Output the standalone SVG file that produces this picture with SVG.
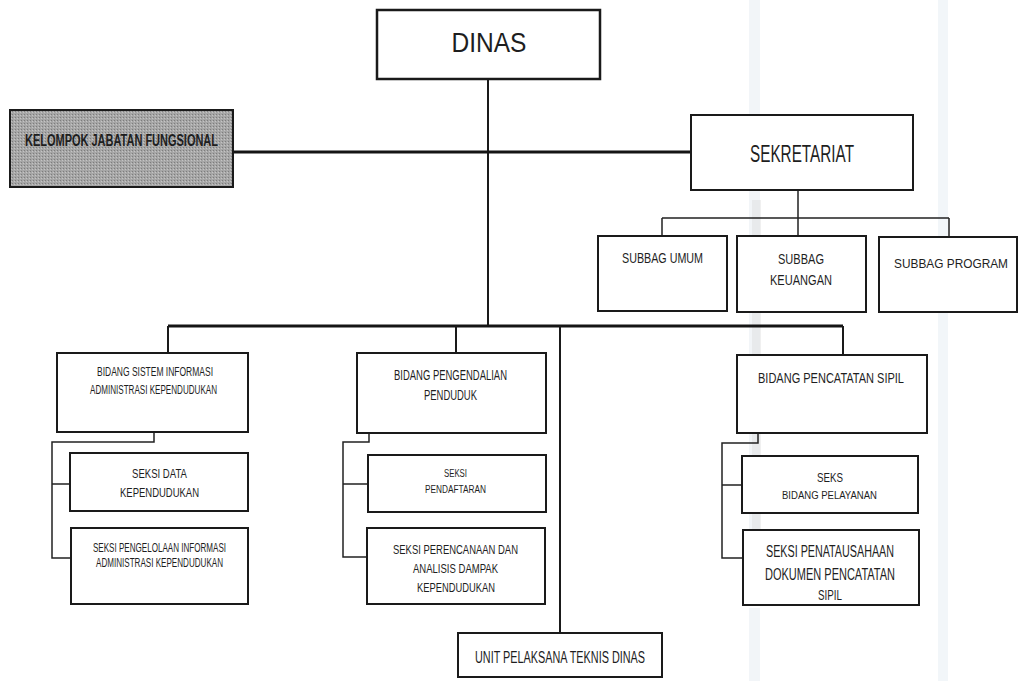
<svg xmlns="http://www.w3.org/2000/svg" width="1020" height="681" viewBox="0 0 1020 681">
  <style>
    .box { fill: #ffffff; stroke: #1a1a1a; stroke-width: 2; }
    .shade { fill: url(#halftone); stroke: #1a1a1a; stroke-width: 2; }
    .t { font-family: "Liberation Sans", Arial, sans-serif; fill: #1e1e1e; text-anchor: middle; }
    .heavy { fill: none; stroke: #151515; stroke-width: 3; }
    .line { fill: none; stroke: #1a1a1a; stroke-width: 2; }
    .thin { fill: none; stroke: #222222; stroke-width: 1.5; }
  </style>
  <defs>
    <pattern id="halftone" width="3" height="3" patternUnits="userSpaceOnUse">
      <rect width="3" height="3" fill="#a6a6a6"/>
      <rect x="0" y="0" width="1" height="1" fill="#7d7d7d"/>
      <rect x="2" y="1" width="1" height="1" fill="#c4c4c4"/>
    </pattern>
  </defs>

  <rect width="1020" height="681" fill="#ffffff"/>

  <!-- faint paper bands -->
  <rect x="749" y="0" width="11" height="681" fill="#e3e9f0" opacity="0.45"/>
  <rect x="752" y="200" width="9" height="400" fill="#dadada" opacity="0.4"/>
  <rect x="938" y="0" width="10" height="681" fill="#e3eaf2" opacity="0.45"/>

  <!-- connectors -->
  <g id="connectors">
    <path class="line" d="M488 79 V326"/>
    <path class="heavy" d="M233 152 H691"/>
    <path class="thin" d="M798 190 V218 M662 218 H949 M662 218 V236 M798 218 V236 M949 218 V236"/>
    <path class="heavy" d="M168 326 H843"/>
    <path class="line" d="M168 326 V353 M456 326 V353 M843 326 V355 M560 326 V633"/>
    <path class="thin" d="M154 432 V442 H52 V558 H70 M52 484 H70"/>
    <path class="thin" d="M369 433 V442 H343 V557 H368 M343 484 H368"/>
    <path class="thin" d="M758 433 V443 H722 V558 H742 M722 485 H742"/>
  </g>

  <g id="dinas">
    <rect class="box" x="377" y="10" width="223" height="69" style="stroke-width:2.5"/>
    <text class="t" x="489" y="52" font-size="27" textLength="75" lengthAdjust="spacingAndGlyphs">DINAS</text>
  </g>

  <g id="kelompok-jabatan-fungsional">
    <rect class="shade" x="10" y="110" width="223" height="77"/>
    <text class="t" x="121.5" y="146" font-size="16" font-weight="bold" textLength="193" lengthAdjust="spacingAndGlyphs">KELOMPOK JABATAN FUNGSIONAL</text>
  </g>

  <g id="sekretariat">
    <rect class="box" x="691" y="115" width="222" height="75"/>
    <text class="t" x="802" y="162" font-size="23" textLength="104" lengthAdjust="spacingAndGlyphs">SEKRETARIAT</text>
  </g>

  <g id="subbag-umum">
    <rect class="box" x="598" y="236" width="129" height="75"/>
    <text class="t" x="662.5" y="263" font-size="15" textLength="81" lengthAdjust="spacingAndGlyphs">SUBBAG UMUM</text>
  </g>

  <g id="subbag-keuangan">
    <rect class="box" x="737" y="236" width="129" height="76"/>
    <text class="t" x="801" y="264" font-size="15" textLength="46" lengthAdjust="spacingAndGlyphs">SUBBAG</text>
    <text class="t" x="801" y="285" font-size="15" textLength="62" lengthAdjust="spacingAndGlyphs">KEUANGAN</text>
  </g>

  <g id="subbag-program">
    <rect class="box" x="879" y="237" width="138" height="75"/>
    <text class="t" x="951" y="268" font-size="13" textLength="114" lengthAdjust="spacingAndGlyphs">SUBBAG PROGRAM</text>
  </g>

  <g id="bidang-sistem-informasi">
    <rect class="box" x="57" y="353" width="191" height="79"/>
    <text class="t" x="155" y="376" font-size="12" textLength="116" lengthAdjust="spacingAndGlyphs">BIDANG SISTEM INFORMASI</text>
    <text class="t" x="153.5" y="394" font-size="12" textLength="127" lengthAdjust="spacingAndGlyphs">ADMINISTRASI KEPENDUDUKAN</text>
  </g>

  <g id="seksi-data-kependudukan">
    <rect class="box" x="70" y="453" width="178" height="58"/>
    <text class="t" x="159.5" y="478" font-size="13" textLength="55" lengthAdjust="spacingAndGlyphs">SEKSI DATA</text>
    <text class="t" x="159.5" y="497" font-size="13" textLength="79" lengthAdjust="spacingAndGlyphs">KEPENDUDUKAN</text>
  </g>

  <g id="seksi-pengelolaan-informasi">
    <rect class="box" x="71" y="528" width="177" height="76"/>
    <text class="t" x="159.5" y="552" font-size="13" textLength="133" lengthAdjust="spacingAndGlyphs">SEKSI PENGELOLAAN INFORMASI</text>
    <text class="t" x="159.5" y="567" font-size="12" textLength="127" lengthAdjust="spacingAndGlyphs">ADMINISTRASI KEPENDUDUKAN</text>
  </g>

  <g id="bidang-pengendalian-penduduk">
    <rect class="box" x="357" y="353" width="189" height="80"/>
    <text class="t" x="450.5" y="380" font-size="14" textLength="113" lengthAdjust="spacingAndGlyphs">BIDANG PENGENDALIAN</text>
    <text class="t" x="450.5" y="400" font-size="14" textLength="53" lengthAdjust="spacingAndGlyphs">PENDUDUK</text>
  </g>

  <g id="seksi-pendaftaran">
    <rect class="box" x="368" y="455" width="178" height="57"/>
    <text class="t" x="455.5" y="477" font-size="10" textLength="23" lengthAdjust="spacingAndGlyphs">SEKSI</text>
    <text class="t" x="455.5" y="493" font-size="10" textLength="61" lengthAdjust="spacingAndGlyphs">PENDAFTARAN</text>
  </g>

  <g id="seksi-perencanaan">
    <rect class="box" x="367" y="528" width="178" height="76"/>
    <text class="t" x="455.5" y="554" font-size="13" textLength="125" lengthAdjust="spacingAndGlyphs">SEKSI PERENCANAAN DAN</text>
    <text class="t" x="455.5" y="573" font-size="13" textLength="85" lengthAdjust="spacingAndGlyphs">ANALISIS DAMPAK</text>
    <text class="t" x="456" y="592" font-size="13" textLength="78" lengthAdjust="spacingAndGlyphs">KEPENDUDUKAN</text>
  </g>

  <g id="unit-pelaksana-teknis">
    <rect class="box" x="458" y="633" width="204" height="44"/>
    <text class="t" x="560" y="663" font-size="16" textLength="170" lengthAdjust="spacingAndGlyphs">UNIT PELAKSANA TEKNIS DINAS</text>
  </g>

  <g id="bidang-pencatatan-sipil">
    <rect class="box" x="737" y="355" width="190" height="78"/>
    <text class="t" x="831" y="383" font-size="15" textLength="146" lengthAdjust="spacingAndGlyphs">BIDANG PENCATATAN SIPIL</text>
  </g>

  <g id="seksi-bidang-pelayanan">
    <rect class="box" x="742" y="456" width="176" height="57"/>
    <text class="t" x="830" y="482" font-size="13" textLength="26" lengthAdjust="spacingAndGlyphs">SEKS</text>
    <text class="t" x="829.5" y="499" font-size="11" textLength="95" lengthAdjust="spacingAndGlyphs">BIDANG PELAYANAN</text>
  </g>

  <g id="seksi-penatausahaan">
    <rect class="box" x="743" y="530" width="176" height="75"/>
    <text class="t" x="830" y="557" font-size="16" textLength="128" lengthAdjust="spacingAndGlyphs">SEKSI PENATAUSAHAAN</text>
    <text class="t" x="830" y="580" font-size="16" textLength="130" lengthAdjust="spacingAndGlyphs">DOKUMEN PENCATATAN</text>
    <text class="t" x="830" y="600" font-size="15" textLength="24" lengthAdjust="spacingAndGlyphs">SIPIL</text>
    <rect x="743" y="604" width="176" height="4" fill="#ffffff"/>
    <path class="line" d="M743 605 H919"/>
  </g>
</svg>
